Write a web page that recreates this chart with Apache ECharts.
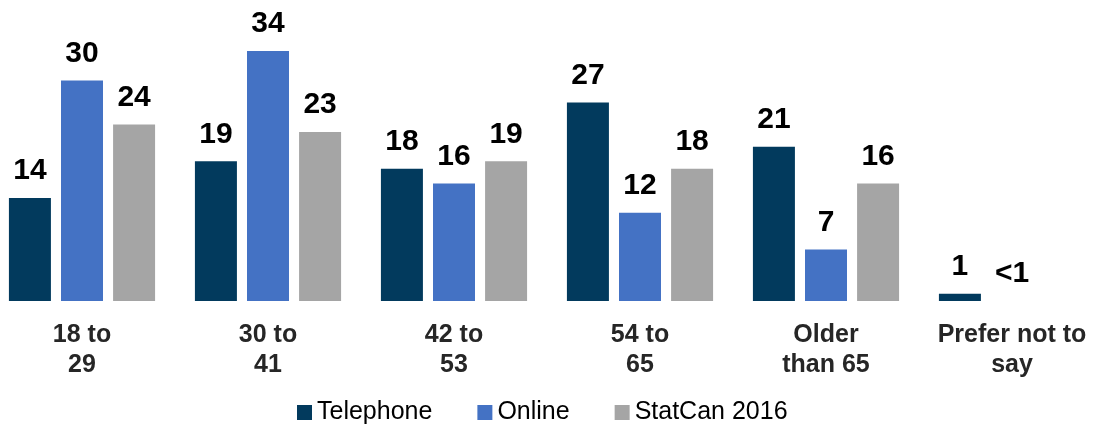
<!DOCTYPE html>
<html>
<head>
<meta charset="utf-8">
<script src="https://cdn.jsdelivr.net/npm/echarts@6/dist/echarts.min.js"></script>
<style>
html,body{margin:0;padding:0;background:#fff;overflow:hidden;}
#chart{position:absolute;left:-11px;top:0;width:1116px;height:427px;}
</style>
</head>
<body>
<div id="chart"></div>
<script>
const categories = ['18 to\n29', '30 to\n41', '42 to\n53', '54 to\n65', 'Older\nthan 65', 'Prefer not to\nsay'];
const seriesNames = ['Telephone', 'Online', 'StatCan 2016'];
const telephone = [14, 19, 18, 27, 21, 1];
const online = [30, 34, 16, 12, 7, 0.1];
const statcan = [24, 23, 19, 18, 16, null];

const colors = ['#023A5D', '#4472C4', '#A5A5A5'];
const FONT = "'Liberation Sans', Arial, sans-serif";

const chart = echarts.init(document.getElementById('chart'));
function mk(name, data, color) {
  return {
    name: name,
    type: 'bar',
    data: data.map(v => (v != null && v < 1) ? { value: v, itemStyle: { color: 'rgba(0,0,0,0)' } } : v),
    barWidth: 42,
    barGap: '24%',
    itemStyle: { color: color },
    label: {
      show: true,
      position: 'top',
      distance: 12,
      fontFamily: FONT,
      fontSize: 30,
      fontWeight: 'bold',
      color: '#000',
      formatter: p => (p.value == null ? '' : (p.value < 1 ? '<1' : String(p.value)))
    }
  };
}
chart.setOption({
  animation: false,
  textStyle: { fontFamily: FONT },
  grid: { left: 0, right: 0, top: 7, bottom: 126, containLabel: false },
  legend: {
    left: 303,
    top: 395,
    itemWidth: 15,
    itemHeight: 15,
    itemGap: 45,
    icon: 'rect',
    textStyle: { fontFamily: FONT, fontSize: 25, color: '#000' },
    data: seriesNames
  },
  xAxis: {
    type: 'category',
    data: categories,
    axisLine: { show: false },
    axisTick: { show: false },
    axisLabel: {
      margin: 19,
      interval: 0,
      fontFamily: FONT,
      fontSize: 25,
      fontWeight: 'bold',
      color: '#262626',
      lineHeight: 30
    }
  },
  yAxis: {
    type: 'value',
    min: 0,
    max: 40,
    show: false,
    splitLine: { show: false }
  },
  series: [
    mk(seriesNames[0], telephone, colors[0]),
    mk(seriesNames[1], online, colors[1]),
    mk(seriesNames[2], statcan, colors[2])
  ]
});
</script>
</body>
</html>
